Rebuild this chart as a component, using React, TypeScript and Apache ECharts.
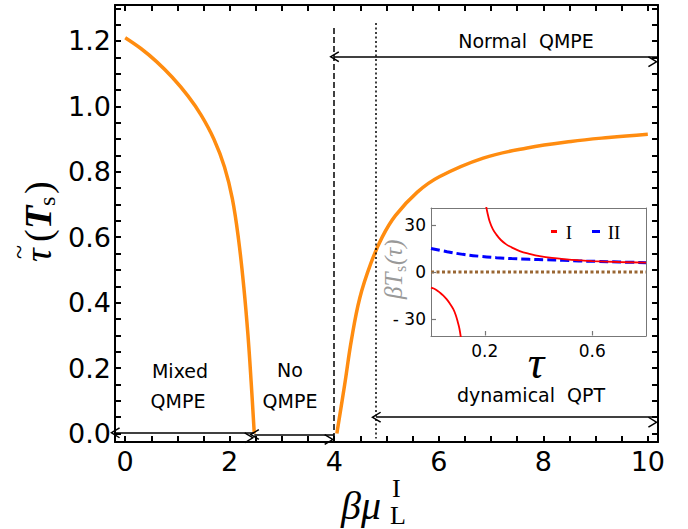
import React, { useEffect, useRef } from "react";
import * as echarts from "echarts";

// ---- main curve (orange) ----
const leftBranchX = [0, 0.3, 0.6, 0.9, 1.2, 1.45, 1.7, 1.9, 2.05, 2.17, 2.27, 2.35, 2.41, 2.47];
const leftBranchY = [1.21, 1.177, 1.137, 1.089, 1.032, 0.974, 0.899, 0.815, 0.718, 0.592, 0.447, 0.299, 0.158, 0.0];
const rightBranchX = [4.05, 4.2, 4.33, 4.49, 4.7, 4.92, 5.17, 5.59, 6.01, 6.85, 7.69, 8.53, 9.25, 10.0];
const rightBranchY = [0.0, 0.15, 0.287, 0.415, 0.52, 0.601, 0.666, 0.738, 0.785, 0.842, 0.873, 0.893, 0.905, 0.915];

// ---- axes ----
const xMin = -0.195;
const xMax = 10.195;
const yMin = -0.026;
const yMax = 1.31;
const xTickLabels = [0, 2, 4, 6, 8, 10];
const xTicks = [0, 0.5, 1, 1.5, 2, 2.5, 3, 3.5, 4, 4.5, 5, 5.5, 6, 6.5, 7, 7.5, 8, 8.5, 9, 9.5, 10];
const yTickLabels = [0, 0.2, 0.4, 0.6, 0.8, 1.0, 1.2];
const yTicks = [0, 0.05, 0.1, 0.15, 0.2, 0.25, 0.3, 0.35, 0.4, 0.45, 0.5, 0.55, 0.6, 0.65, 0.7, 0.75, 0.8, 0.85, 0.9, 0.95, 1.0, 1.05, 1.1, 1.15, 1.2, 1.25, 1.3];

// ---- region markers ----
const transition1 = 2.47; // mixed -> no QMPE
const transition2 = 4.0; // dashed line
const transition3 = 4.8; // dotted line (dynamical QPT)
const normalArrowY = 1.152;
const dqptArrowY = 0.05;

// ---- inset ----
const tauMin = 0;
const tauMax = 0.8;
const valMin = -41;
const valMax = 41;
const insetTauLabels = [0.2, 0.6];
const insetValLabels = [-30, 0, 30];
const insetIUpperTau = [0.203, 0.21, 0.218, 0.23, 0.243, 0.26, 0.28, 0.3, 0.33, 0.37, 0.404, 0.45, 0.503, 0.55, 0.6, 0.7, 0.8];
const insetIUpperVal = [44, 38, 32.5, 27.5, 24, 20.5, 17.7, 15.8, 13.4, 11.5, 10.2, 9.0, 8.1, 7.5, 7.0, 6.4, 6.0];
const insetILowerTau = [0, 0.01, 0.02, 0.033, 0.045, 0.058, 0.07, 0.083, 0.092, 0.1, 0.106, 0.112];
const insetILowerVal = [-10, -10.6, -11.5, -13.2, -15, -17.4, -20.2, -23.8, -27.5, -32.3, -36.5, -43];
const insetIITau = [0, 0.06, 0.119, 0.18, 0.243, 0.3, 0.367, 0.43, 0.491, 0.55, 0.615, 0.7, 0.8];
const insetIIVal = [15.1, 13.0, 11.3, 10.1, 9.2, 8.6, 8.1, 7.8, 7.5, 7.1, 6.8, 6.4, 6.0];
const insetZeroTau = [0, 0.8];
const insetZeroVal = [0, 0];

const zip = (xs: number[], ys: number[]) => xs.map((x, i) => [x, ys[i]]);

const ORANGE = "#FF8C10";
const SANS = "DejaVu Sans";
const SERIF = "Liberation Serif";

// layout
const MAIN_GRID = { left: 115, top: 5, width: 543, height: 437 };
const INSET_GRID = { left: 431, top: 208, width: 215, height: 128 };

const chevron = "path://M5,0 L10,8.6 L8.9,9.4 L5,2.6 L1.1,9.4 L0,8.6 Z";

function txt(text: string, x: number, y: number, size: number, opts: any = {}) {
  const style: any = {
    text,
    fontSize: size,
    fontFamily: opts.family || SANS,
    fontStyle: opts.italic ? "italic" : "normal",
    fontWeight: opts.bold ? "bold" : "normal",
    fill: opts.color || "#000",
    align: opts.align || "center",
    textAlign: opts.align || "center",
    verticalAlign: opts.valign || "middle",
    textVerticalAlign: opts.valign || "middle",
  };
  if (opts.lineHeight) style.lineHeight = opts.lineHeight;
  return { type: "text", x, y, silent: true, style };
}

// inward frame ticks as short marker segments in data space (length given in pixels)
function frameTicks(
  xVals: number[], yVals: number[], xr: [number, number], yr: [number, number],
  grid: { width: number; height: number }, lenPx: number, sides: string[], lineStyle: any
) {
  const dx = (lenPx * (xr[1] - xr[0])) / grid.width;
  const dy = (lenPx * (yr[1] - yr[0])) / grid.height;
  const ex = (0.5 * (xr[1] - xr[0])) / grid.width;
  const ey = (0.5 * (yr[1] - yr[0])) / grid.height;
  const segs: any[] = [];
  if (sides.includes("bottom")) xVals.forEach((v) => segs.push([{ coord: [v, yr[0] + ey] }, { coord: [v, yr[0] + dy] }]));
  if (sides.includes("top")) xVals.forEach((v) => segs.push([{ coord: [v, yr[1] - ey] }, { coord: [v, yr[1] - dy] }]));
  if (sides.includes("left")) yVals.forEach((v) => segs.push([{ coord: [xr[0] + ex, v] }, { coord: [xr[0] + dx, v] }]));
  if (sides.includes("right")) yVals.forEach((v) => segs.push([{ coord: [xr[1] - ex, v] }, { coord: [xr[1] - dx, v] }]));
  return {
    silent: true, animation: false, symbol: ["none", "none"], label: { show: false },
    emphasis: { disabled: true }, lineStyle, data: segs,
  };
}

export default function App() {
  const ref = useRef<HTMLDivElement>(null);
  useEffect(() => {
    document.body.style.margin = "0";
    const chart = echarts.init(ref.current!, undefined, { renderer: "svg" });
    const frameLine = { show: true, onZero: false, lineStyle: { color: "#000", width: 2 } };
    const insetLine = { show: true, onZero: false, lineStyle: { color: "#777", width: 1 } };
    const noTick = { show: false };
    const arrowLineStyle = { color: "#000", width: 1.5, type: "solid" };

    const option: any = {
      animation: false,
      backgroundColor: "#fff",
      grid: [
        { ...MAIN_GRID, outerBoundsMode: "none" },
        { ...INSET_GRID, outerBoundsMode: "none" },
      ],
      xAxis: [
        {
          gridIndex: 0, type: "value", min: xMin, max: xMax, position: "bottom",
          axisLine: frameLine, axisTick: noTick, splitLine: { show: false },
          axisLabel: { customValues: xTickLabels, fontSize: 27, fontFamily: SANS, color: "#000", margin: 6 },
        },
        {
          gridIndex: 0, type: "value", min: xMin, max: xMax, position: "top",
          axisLine: frameLine, axisTick: noTick, splitLine: { show: false }, axisLabel: { show: false },
        },
        {
          gridIndex: 1, type: "value", min: tauMin, max: tauMax, position: "bottom",
          axisLine: insetLine, splitLine: { show: false }, axisTick: noTick,
          axisLabel: { customValues: insetTauLabels, fontSize: 17, fontFamily: SANS, color: "#000", margin: 6 },
        },
        {
          gridIndex: 1, type: "value", min: tauMin, max: tauMax, position: "top",
          axisLine: insetLine, splitLine: { show: false }, axisTick: noTick, axisLabel: { show: false },
        },
      ],
      yAxis: [
        {
          gridIndex: 0, type: "value", min: yMin, max: yMax, position: "left",
          axisLine: frameLine, axisTick: noTick, splitLine: { show: false },
          axisLabel: { customValues: yTickLabels, fontSize: 27, fontFamily: SANS, color: "#000", margin: 4,
            formatter: (v: number) => v.toFixed(1) },
        },
        {
          gridIndex: 0, type: "value", min: yMin, max: yMax, position: "right",
          axisLine: frameLine, axisTick: noTick, splitLine: { show: false }, axisLabel: { show: false },
        },
        {
          gridIndex: 1, type: "value", min: valMin, max: valMax, position: "left",
          axisLine: insetLine, splitLine: { show: false }, axisTick: noTick,
          axisLabel: { customValues: insetValLabels, fontSize: 17, fontFamily: SANS, color: "#000", margin: 5,
            formatter: (v: number) => (v < 0 ? "- " + Math.abs(v) : String(v)) },
        },
        {
          gridIndex: 1, type: "value", min: valMin, max: valMax, position: "right",
          axisLine: insetLine, splitLine: { show: false }, axisTick: noTick, axisLabel: { show: false },
        },
      ],
      series: [
        {
          name: "main ticks", type: "line", xAxisIndex: 0, yAxisIndex: 0, data: [], silent: true, z: 5,
          markLine: frameTicks(xTicks, yTicks, [xMin, xMax], [yMin, yMax], MAIN_GRID, 6,
            ["bottom", "top", "left", "right"], { color: "#000", width: 2, type: "solid" }),
        },
        {
          name: "inset ticks", type: "line", xAxisIndex: 2, yAxisIndex: 2, data: [], silent: true, z: 5,
          markLine: frameTicks(insetTauLabels, insetValLabels, [tauMin, tauMax], [valMin, valMax], INSET_GRID, 5,
            ["bottom", "left"], { color: "#777", width: 1.2, type: "solid" }),
        },
        {
          name: "left branch", type: "line", xAxisIndex: 0, yAxisIndex: 0, data: zip(leftBranchX, leftBranchY),
          showSymbol: false, symbol: "none", smooth: 0.4,
          lineStyle: { color: ORANGE, width: 3.5 }, silent: true,
        },
        {
          name: "right branch", type: "line", xAxisIndex: 0, yAxisIndex: 0, data: zip(rightBranchX, rightBranchY),
          showSymbol: false, symbol: "none", smooth: 0.4,
          lineStyle: { color: ORANGE, width: 3.5 }, silent: true,
        },
        {
          name: "annotations", type: "line", xAxisIndex: 0, yAxisIndex: 0, data: [], silent: true,
          markLine: {
            silent: true, animation: false, label: { show: false },
            symbol: [chevron, chevron], symbolSize: [11, 10], symbolOffset: [0, 5],
            lineStyle: arrowLineStyle,
            emphasis: { disabled: true },
            data: [
              [{ coord: [xMin, 0.002] }, { coord: [transition1, 0.002] }],
              [{ coord: [transition1, -0.003] }, { coord: [transition2, -0.003] }],
              [{ coord: [transition2, normalArrowY] }, { coord: [xMax, normalArrowY] }],
              [{ coord: [transition3, dqptArrowY] }, { coord: [xMax, dqptArrowY] }],
              [
                { coord: [transition2, 1.24], symbol: "none", lineStyle: { color: "#000", width: 1.5, type: [6, 3] } },
                { coord: [transition2, -0.01], symbol: "none" },
              ],
              [
                { coord: [transition3, 1.255], symbol: "none", lineStyle: { color: "#000", width: 1.5, type: [2, 2.5] } },
                { coord: [transition3, -0.015], symbol: "none" },
              ],
            ],
          },
        },
        {
          name: "zero", type: "line", xAxisIndex: 2, yAxisIndex: 2, data: zip(insetZeroTau, insetZeroVal),
          showSymbol: false, symbol: "none", lineStyle: { color: "#996633", width: 3, type: [3, 2.5] }, silent: true,
        },
        {
          name: "II", type: "line", xAxisIndex: 2, yAxisIndex: 2, data: zip(insetIITau, insetIIVal),
          showSymbol: false, symbol: "none", smooth: 0.4, lineStyle: { color: "#0000FF", width: 3, type: [9, 4] }, silent: true,
        },
        {
          name: "I", type: "line", xAxisIndex: 2, yAxisIndex: 2, data: zip(insetIUpperTau, insetIUpperVal),
          showSymbol: false, symbol: "none", smooth: 0.4, clip: true,
          lineStyle: { color: "#FF0000", width: 1.8 }, silent: true,
        },
        {
          name: "I lower", type: "line", xAxisIndex: 2, yAxisIndex: 2, data: zip(insetILowerTau, insetILowerVal),
          showSymbol: false, symbol: "none", smooth: 0.4, clip: true,
          lineStyle: { color: "#FF0000", width: 1.8 }, silent: true,
        },
      ],
      graphic: {
        elements: [
          // region labels
          txt("Mixed", 180, 371, 19),
          txt("QMPE", 178, 401, 19),
          txt("No", 290, 370, 19),
          txt("QMPE", 290, 401, 19),
          txt("Normal  QMPE", 526, 41, 19),
          txt("dynamical  QPT", 531, 395, 19, { lineHeight: 20 }),
          // inset legend
          { type: "rect", silent: true, shape: { x: 551, y: 230, width: 6, height: 3 }, style: { fill: "#FF0000" } },
          txt("I", 569, 232, 19, { family: SERIF }),
          { type: "rect", silent: true, shape: { x: 592, y: 230, width: 8, height: 3 }, style: { fill: "#0000FF" } },
          txt("II", 614, 232, 19, { family: SERIF }),
          // inset x label
          txt("τ", 536, 362, 46, { family: SERIF, italic: true, lineHeight: 26 }),
          // inset y label (rotated)
          {
            type: "group", x: 393, y: 268, rotation: Math.PI / 2, silent: true,
            children: [
              txt("βT", -31, 0, 25, { family: SERIF, italic: true, color: "#999", align: "left" }),
              txt("s", -4, 7, 16, { family: SERIF, color: "#999", align: "left" }),
              txt("(τ)", 3, 0, 25, { family: SERIF, italic: true, color: "#999", align: "left" }),
            ],
          },
          // main y label (rotated)
          {
            type: "group", x: 38, y: 222, rotation: Math.PI / 2, silent: true,
            children: [
              txt("τ", -40, 0, 38, { family: SERIF, italic: true, align: "left" }),
              txt("~", -37, -20, 26, { family: SERIF, align: "left" }),
              txt("(", -20, 0, 38, { family: SERIF, align: "left" }),
              txt("T", -7, 0, 38, { family: SERIF, italic: true, bold: true, align: "left" }),
              txt("s", 16, 9, 24, { family: SERIF, align: "left" }),
              txt(")", 28, 0, 38, { family: SERIF, align: "left" }),
            ],
          },
          // main x label
          txt("βμ", 341, 505, 40, { family: SERIF, italic: true, align: "left" }),
          txt("I", 392, 488, 26, { family: SERIF, align: "left" }),
          txt("L", 390, 515, 26, { family: SERIF, align: "left" }),
        ],
      },
    };
    chart.setOption(option);
    return () => chart.dispose();
  }, []);
  return <div ref={ref} style={{ width: 688, height: 529 }} />;
}
